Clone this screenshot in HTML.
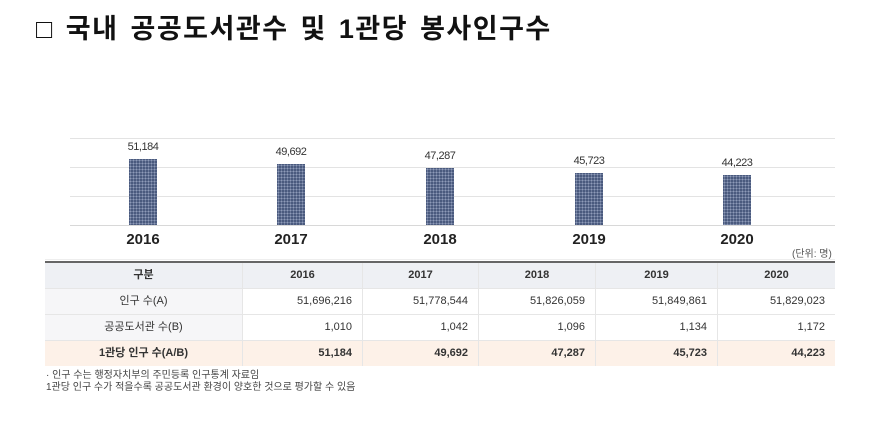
<!DOCTYPE html>
<html><head><meta charset="utf-8"><style>
body{margin:0;width:881px;height:421px;background:#fff;font-family:"Liberation Sans","Noto Sans CJK KR",sans-serif;position:relative;overflow:hidden}
.a{position:absolute}
.title{left:36px;top:7px;font-size:27px;font-weight:bold;color:#111;letter-spacing:1.5px;word-spacing:3px;white-space:nowrap}
.g{position:absolute;left:70px;width:765px;height:1px;background:#e3e3e3}
.bar{position:absolute;width:28px;background-color:#4a5a7e;background-image:radial-gradient(#8e9bb8 0.8px,transparent 1px);background-size:3px 3px}
.v{position:absolute;width:80px;text-align:center;font-size:11px;color:#333;letter-spacing:-0.5px}
.y{position:absolute;width:80px;text-align:center;font-size:15px;font-weight:bold;color:#222;top:231px}
table{position:absolute;left:45px;top:261px;border-collapse:collapse;font-size:11px;color:#333;border-top:2px solid #666}
td{border-bottom:1px solid #e6e6e6;border-left:1px solid #e6e6e6;padding:0 10px;text-align:right;line-height:12px}
td:first-child{border-left:none;text-align:center;background:#f6f6f8}
tr.h td{background:#eef0f4;text-align:center;font-weight:bold}
tr.p td{background:#fdf1e8;font-weight:bold;border-bottom:none}
.n{font-size:10px;color:#444;left:46px;line-height:12px}
</style></head><body>
<div class="a title">□ 국내 공공도서관수 및 1관당 봉사인구수</div>
<div class="g" style="top:138px"></div>
<div class="g" style="top:167px"></div>
<div class="g" style="top:196px"></div>
<div class="g" style="top:225px;background:#d8d8d8"></div>
<div class="g" style="top:259px;left:45px;width:790px;background:#eee"></div>
<div class="bar" style="left:129px;top:159px;height:66px"></div>
<div class="bar" style="left:277px;top:164px;height:61px"></div>
<div class="bar" style="left:426px;top:168px;height:57px"></div>
<div class="bar" style="left:575px;top:173px;height:52px"></div>
<div class="bar" style="left:723px;top:175px;height:50px"></div>
<div class="v" style="left:103px;top:141px">51,184</div>
<div class="v" style="left:251px;top:146px">49,692</div>
<div class="v" style="left:400px;top:150px">47,287</div>
<div class="v" style="left:549px;top:155px">45,723</div>
<div class="v" style="left:697px;top:157px">44,223</div>
<div class="y" style="left:103px">2016</div>
<div class="y" style="left:251px">2017</div>
<div class="y" style="left:400px">2018</div>
<div class="y" style="left:549px">2019</div>
<div class="y" style="left:697px">2020</div>
<div class="a" style="left:792px;top:245px;font-size:10px;color:#555">(단위: 명)</div>
<table>
<tr class="h" style="height:26px"><td style="width:177px">구분</td><td style="width:99px">2016</td><td style="width:95px">2017</td><td style="width:96px">2018</td><td style="width:101px">2019</td><td style="width:97px">2020</td></tr>
<tr style="height:26px"><td>인구 수(A)</td><td>51,696,216</td><td>51,778,544</td><td>51,826,059</td><td>51,849,861</td><td>51,829,023</td></tr>
<tr style="height:26px"><td>공공도서관 수(B)</td><td>1,010</td><td>1,042</td><td>1,096</td><td>1,134</td><td>1,172</td></tr>
<tr class="p" style="height:26px"><td>1관당 인구 수(A/B)</td><td>51,184</td><td>49,692</td><td>47,287</td><td>45,723</td><td>44,223</td></tr>
</table>
<div class="a n" style="top:370px">· 인구 수는 행정자치부의 주민등록 인구통계 자료임<br>1관당 인구 수가 적을수록 공공도서관 환경이 양호한 것으로 평가할 수 있음</div>
</body></html>
